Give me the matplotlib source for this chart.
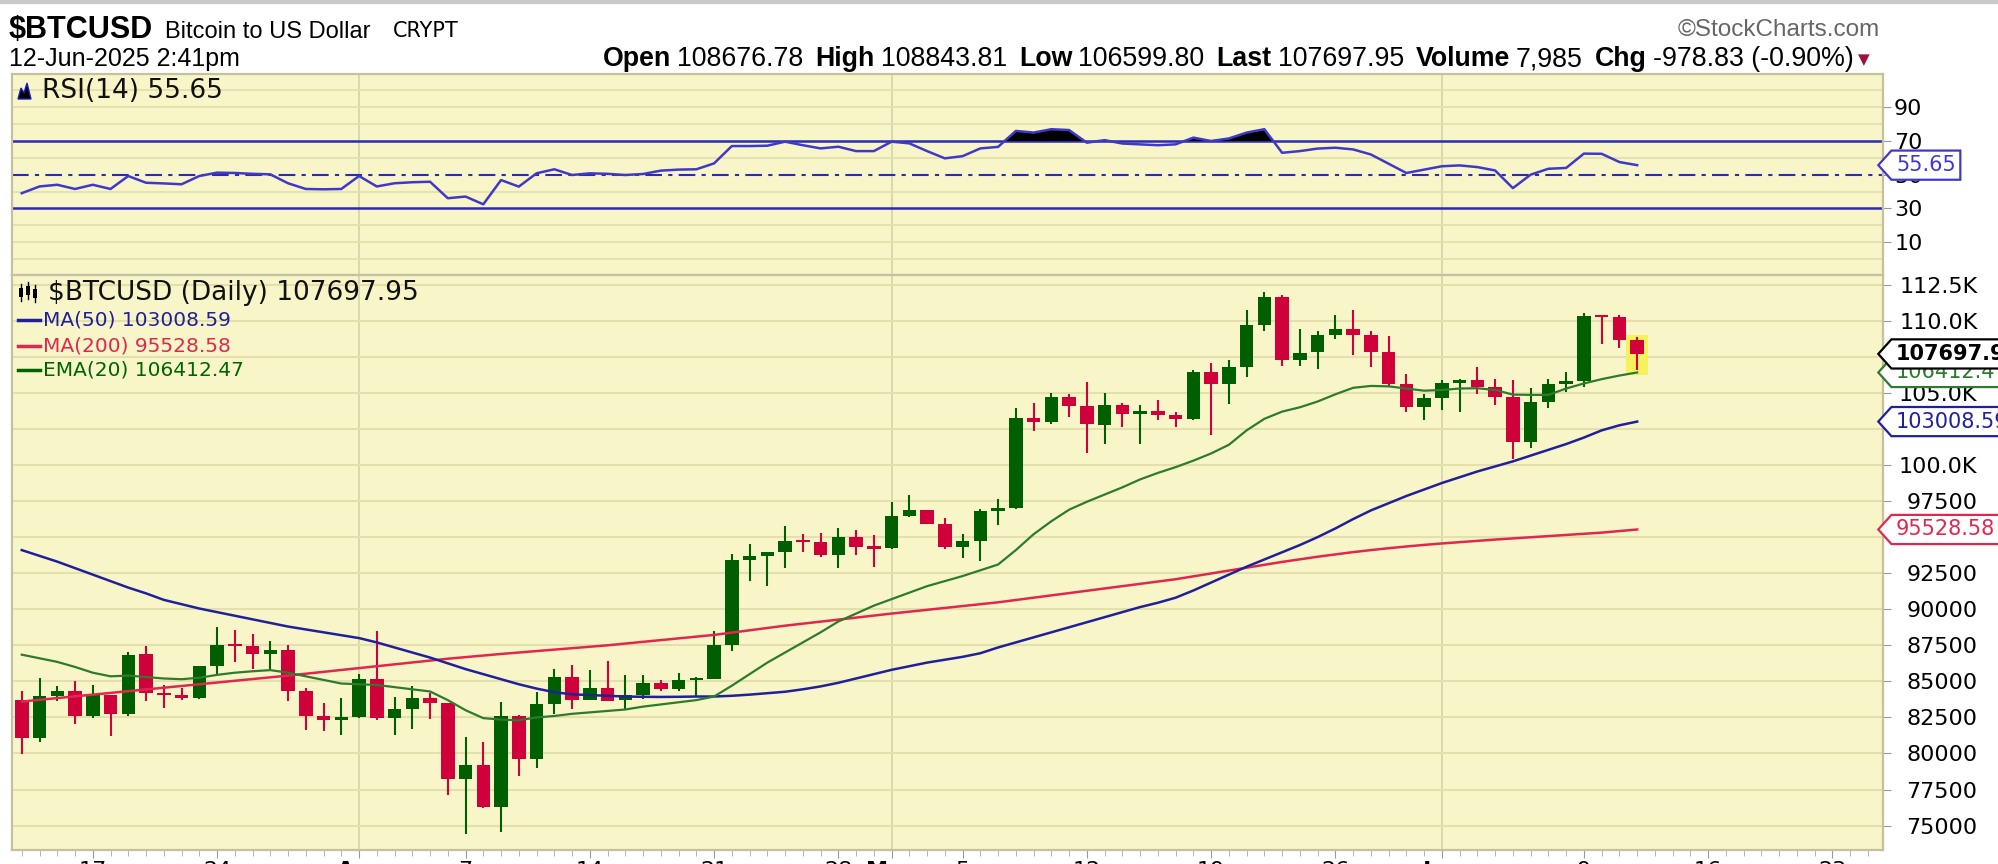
import numpy as np
import pandas as pd
import matplotlib
matplotlib.use("Agg")
import matplotlib.pyplot as plt
from matplotlib.patches import Rectangle, Polygon
from matplotlib.lines import Line2D
from matplotlib.path import Path

W, H = 1998, 864
BG = "#f8f6c8"
GRID = "#e3e0ae"
MONTH_GRID = "#d3d8ac"
UP = "#005f00"
DOWN = "#d0003a"
MA50_COLOR = "#20209a"
MA200_COLOR = "#e0284f"
EMA20_COLOR = "#2e7a2e"
RSI_COLOR = "#4038c8"
RSI_LEVEL = "#2a2ab4"

DATES = pd.date_range("2025-03-13", "2025-06-12", freq="D")

OPEN = [83724, 81067, 83968, 84333, 82577, 84075, 82718, 86873, 84164, 84046, 83831, 86070, 87512, 87461, 86896, 87185, 84352, 82597, 82337,
        82551, 85180, 82487, 83100, 83844, 83505, 78221, 79218, 76274, 82566, 79625, 83405, 85280, 83694, 84540, 83674, 84031, 84901, 84450, 85066,
        85172, 87521, 93427, 93692, 93955, 94714, 94661, 93755, 94982, 94286,
        94212, 96494, 96904, 95877, 94319, 94749, 96804, 97034, 103239, 102973, 104701, 104106, 102791, 104168, 103539, 103735, 103489, 103186,
        106430, 105605, 106791, 109674, 111679, 107278, 107803, 109023, 109441, 108992, 107802, 105646, 103994,
        104637, 105652, 105884, 105434, 104747, 101574, 104391, 105617, 105793, 110295, 110262, 108676.78]
HIGH = [84301, 85263, 84673, 85051, 84726, 84075, 87021, 87443, 84782, 84513, 86094, 88758, 88543, 88292, 87786, 87515, 84567, 83505, 83871,
        85487, 88501, 83909, 84696, 84207, 83505, 81120, 80823, 83541, 82692, 84248, 85856, 86106, 85786, 86430, 85429, 85449, 85095, 85597, 85306,
        88460, 93817, 94535, 93898, 95758, 95228, 95319, 95598, 95485, 95152,
        97437, 97896, 96904, 96318, 95193, 96920, 97625, 103971, 104305, 104984, 104937, 105747, 104977, 104303, 104153, 104533, 103707, 106597,
        107068, 107300, 110724, 111970, 111810, 109454, 109313, 110376, 110718, 109298, 108910, 106308, 104927,
        105888, 105933, 106813, 105973, 105909, 105316, 105973, 106462, 110561, 110400, 110393, 108843.81]
LOW = [79931, 80797, 83639, 82018, 82492, 81179, 82569, 83647, 83172, 83675, 83794, 85541, 86346, 85862, 85837, 83645, 81634, 81573, 81293,
       82433, 82320, 81282, 81671, 82378, 77153, 74436, 76198, 74589, 78456, 78971, 82770, 83082, 83690, 83606, 83101, 83750, 84299, 84353, 83976,
       85144, 87084, 91963, 91592, 92870, 93947, 93637, 92860, 93742, 92910,
       94153, 96377, 95886, 94173, 93566, 93377, 95829, 96951, 102346, 102834, 103346, 100815, 101429, 102639, 101440, 103137, 102640, 103142,
       102112, 104200, 106127, 109285, 106843, 106895, 106683, 108735, 107592, 106813, 105374, 103685, 103100,
       103826, 103703, 104917, 104183, 100438, 101191, 103957, 105081, 105400, 108360, 108082, 106599.80]
CLOSE = [81066, 83969, 84343, 82580, 84076, 82718, 86854, 84168, 84044, 83832, 86054, 87498, 87471, 86900, 87177, 84353, 82597, 82334, 82549,
         85169, 82485, 83102, 83843, 83504, 78214, 79235, 76271, 82573, 79626, 83404, 85288, 83740, 84542, 83668, 84033, 84895, 84450, 85063, 85174,
         87519, 93442, 93691, 93943, 94721, 94646, 93754, 94978, 94284, 94207,
         96492, 96910, 95891, 94315, 94748, 96802, 97033, 103242, 102970, 104697, 104106, 102812, 104169, 103539, 103744, 103489, 103191, 106446,
         105606, 106791, 109678, 111673, 107287, 107791, 109035, 109440, 108994, 107802, 105641, 103998, 104638,
         105653, 105881, 105433, 104731, 101575, 104390, 105616, 105794, 110295, 110258, 108686, 107697.95]

MA50 = [94100, 93700, 93300, 92850, 92400, 91950, 91500, 91100, 90650, 90350,
        90050, 89800, 89550, 89300, 89050, 88800, 88600, 88400, 88200, 88000,
        87700, 87350, 87000, 86650, 86250, 85850, 85500, 85150, 84800, 84500,
        84250, 84100, 84050, 84000, 83950, 83930, 83920, 83930, 83950, 83950,
        84000, 84080, 84180, 84280, 84450, 84650, 84900, 85200, 85500, 85800,
        86050, 86300, 86500, 86700, 86950, 87350, 87700, 88050, 88400, 88750,
        89100, 89450, 89800, 90150, 90450, 90800, 91300, 91850, 92400, 92950,
        93450, 93950, 94450, 95000, 95600, 96250, 96850, 97350, 97850, 98300,
        98750, 99150, 99550, 99900, 100250, 100650, 101050, 101450, 101900, 102400,
        102750, 103008.59]
MA200 = [83600, 83720, 83840, 83960, 84080, 84200, 84320, 84440, 84560, 84680,
         84800, 84920, 85040, 85160, 85280, 85400, 85530, 85660, 85790, 85920,
         86050, 86180, 86310, 86440, 86570, 86680, 86790, 86900, 87000, 87100,
         87200, 87300, 87400, 87500, 87620, 87740, 87860, 87980, 88100, 88220,
         88380, 88540, 88700, 88860, 89000, 89140, 89280, 89420, 89560, 89700,
         89830, 89960, 90090, 90220, 90350, 90480, 90640, 90800, 90960, 91120,
         91280, 91440, 91600, 91760, 91920, 92080, 92280, 92480, 92680, 92880,
         93080, 93280, 93460, 93640, 93800, 93960, 94100, 94230, 94350, 94460,
         94560, 94650, 94740, 94830, 94910, 94990, 95070, 95150, 95230, 95310,
         95420, 95528.58]
EMA20 = [86850, 86600, 86350, 86000, 85600, 85350, 85400, 85300, 85200, 85150,
         85250, 85450, 85600, 85700, 85780, 85600, 85350, 85100, 84850, 84800,
         84750, 84600, 84450, 84300, 83700, 83000, 82450, 82350, 82300, 82500,
         82600, 82750, 82850, 82950, 83050, 83250, 83400, 83550, 83700, 83950,
         84700, 85500, 86300, 87000, 87700, 88400, 89150, 89700, 90250, 90700,
         91150, 91600, 91950, 92300, 92700, 93100, 94100, 95200, 96100, 96900,
         97450, 97950, 98450, 99000, 99450, 99850, 100300, 100800, 101400, 102400,
         103200, 103700, 104000, 104400, 104900, 105350, 105480, 105450, 105300, 105150,
         105200, 105300, 105320, 105200, 104880, 104860, 104860, 105300, 105650, 105950,
         106200, 106412.47]
RSI = [39, 43, 44, 41.5, 44, 41.5, 49.2, 45.2, 44.8, 44.3,
       49.2, 51.2, 51, 50.5, 50.2, 44.9, 41.5, 41.3, 41.5, 49.2,
       43, 44.9, 45.5, 45.8, 36, 37, 32.4, 46.8, 42.9, 50.8,
       53.2, 49.8, 50.8, 50.5, 49.8, 50.4, 52.4, 53, 53.2, 56.7,
       67, 67, 67.2, 69.6, 67.5, 65.6, 66.6, 64, 64, 69.6,
       68.6, 64, 59.7, 61, 65.6, 66.5, 76, 75, 77, 76.5,
       69, 70.5, 68.5, 68, 67.5, 68, 72, 70, 71.5, 75,
       77, 63, 64, 65.5, 66, 65, 62, 56.5, 51, 53,
       55, 55.5, 54.5, 52.5, 42, 50, 53.5, 54, 62.5, 62.4,
       57.5, 55.65]

XTICK_DATES = ["2025-03-17", "2025-03-24", "2025-04-01", "2025-04-07", "2025-04-14", "2025-04-21", "2025-04-28", "2025-05-01",
               "2025-05-05", "2025-05-12", "2025-05-19", "2025-05-26", "2025-06-01", "2025-06-09", "2025-06-16", "2025-06-23"]
XTICK_LABELS = ["17", "24", "Apr", "7", "14", "21", "28", "May", "5", "12", "19", "26", "Jun", "9", "16", "23"]
MONTH_STARTS = ["2025-04-01", "2025-05-01", "2025-06-01"]
PRICE_TICKS = list(range(75000, 112501, 2500))
RSI_TICKS = [10, 30, 50, 70, 90]
RSI_GRID = [0, 10, 20, 40, 60, 80, 90, 100]


def fx(px):
    return px / W


def fy(py):
    return 1 - py / H


def day_index(d):
    return (pd.Timestamp(d) - DATES[0]).days


def tag_shape(x0, y0, width, height, mutation_size):
    pad = 0.22 * mutation_size
    x0, y0 = x0 - pad, y0 - pad
    width, height = width + 2 * pad, height + 2 * pad
    tip = height * 0.45
    verts = [(x0 - tip, y0 + height / 2), (x0, y0), (x0 + width, y0),
             (x0 + width, y0 + height), (x0, y0 + height), (x0 - tip, y0 + height / 2)]
    return Path(verts, closed=True)


def tag(ax, y, text, color, weight="normal"):
    ax.annotate(text, xy=(1, y), xycoords=("axes fraction", "data"), xytext=(13, 0),
                textcoords="offset pixels", ha="left", va="center", fontsize=15,
                fontweight=weight, color=color, annotation_clip=False, zorder=10,
                bbox=dict(boxstyle=tag_shape, fc="white", ec=color, lw=1.6))


def style_panel(ax):
    ax.set_facecolor(BG)
    for s in ax.spines.values():
        s.set_color("#c4c1a0")
        s.set_linewidth(1.6)
    for d in MONTH_STARTS:
        ax.axvline(day_index(d), color=MONTH_GRID, lw=1.3, zorder=0)
    ax.set_xlim(-0.55, 104.85)


fig = plt.figure(figsize=(W / 100, H / 100), dpi=100)
fig.patch.set_facecolor("white")

ax_rsi = fig.add_axes([fx(12), fy(275), (1883 - 12) / W, (275 - 74) / H])
ax = fig.add_axes([fx(12), fy(850), (1883 - 12) / W, (850 - 275) / H])
style_panel(ax_rsi)
style_panel(ax)

x = np.arange(len(DATES))

# RSI panel
rsi = np.array(RSI)
for g in RSI_GRID:
    ax_rsi.axhline(g, color=GRID, lw=1.3, zorder=0)
ax_rsi.axhline(70, color=RSI_LEVEL, lw=1.8, zorder=1)
ax_rsi.axhline(30, color=RSI_LEVEL, lw=1.8, zorder=1)
ax_rsi.axhline(50, color=RSI_LEVEL, lw=1.5, ls=(0, (8, 3, 2, 3)), zorder=1)
ax_rsi.fill_between(x, 70, rsi, where=rsi > 70, interpolate=True, color="black", lw=0, zorder=2)
ax_rsi.plot(x, rsi, color=RSI_COLOR, lw=1.8, zorder=3)
ax_rsi.set_ylim(-9.6, 109.8)
ax_rsi.set_xticks([])
ax_rsi.yaxis.tick_right()
ax_rsi.set_yticks(RSI_TICKS)
ax_rsi.set_yticklabels([str(t) for t in RSI_TICKS])
ax_rsi.tick_params(axis="y", length=6, color="#999999", labelsize=16, pad=2)
tag(ax_rsi, RSI[-1], "55.65", RSI_COLOR)

# price panel
for p in PRICE_TICKS:
    ax.axhline(p, color=GRID, lw=1.5, zorder=0)
ax.add_patch(Rectangle((x[-1] - 0.6, 106250), 1.2, 2760, fc="#f6f15c", ec="none", zorder=1))
for i in x:
    o, h, l, c = OPEN[i], HIGH[i], LOW[i], CLOSE[i]
    col = UP if c >= o else DOWN
    ax.vlines(i, l, h, color=col, lw=1.5, zorder=2)
    ax.add_patch(Rectangle((i - 0.38, min(o, c)), 0.76, max(abs(c - o), 150), fc=col, ec="none", zorder=2))
ax.plot(x, MA200, color=MA200_COLOR, lw=1.8, zorder=3)
ax.plot(x, MA50, color=MA50_COLOR, lw=1.8, zorder=3)
ax.plot(x, EMA20, color=EMA20_COLOR, lw=1.6, zorder=3)
ax.set_ylim(73310, 113170)

ax.yaxis.tick_right()
ax.set_yticks(PRICE_TICKS)
ax.set_yticklabels([f"{p / 1000:.1f}K" if p >= 100000 else str(p) for p in PRICE_TICKS])
ax.tick_params(axis="y", length=6, color="#999999", labelsize=16, pad=62)
for lbl in ax.get_yticklabels():
    lbl.set_horizontalalignment("right")

ax.set_xticks([day_index(d) for d in XTICK_DATES])
ax.set_xticklabels(XTICK_LABELS)
ax.set_xticks(range(0, 105), minor=True)
ax.tick_params(axis="x", which="major", length=6, color="#999999", labelsize=16, pad=2)
ax.tick_params(axis="x", which="minor", length=4, color="#aaaaaa")
for lbl in ax.get_xticklabels():
    if lbl.get_text() in ("Apr", "May", "Jun"):
        lbl.set_fontweight("bold")

tag(ax, 95528.58, "95528.58", MA200_COLOR)
tag(ax, 103008.59, "103008.59", MA50_COLOR)
tag(ax, 106412.47, "106412.47", EMA20_COLOR)
tag(ax, 107697.95, "107697.95", "black", weight="bold")

# legends inside panels
fig.add_artist(Polygon([(fx(18), fy(99)), (fx(21), fy(88)), (fx(24), fy(93)), (fx(27), fy(83)), (fx(31), fy(99))],
                       closed=True, transform=fig.transFigure, fc="black", ec="#2020c0", lw=1))
fig.text(fx(42), fy(91), "RSI(14) 55.65", fontsize=19, va="center", color="#111111")

for cx, top, bot in [(21, 288, 297), (28, 286, 295), (35, 289, 298)]:
    fig.add_artist(Line2D([fx(cx), fx(cx)], [fy(top - 4), fy(bot + 4)], color="black", lw=1, transform=fig.transFigure))
    fig.add_artist(Rectangle((fx(cx - 2), fy(bot)), fx(4), (bot - top) / H, fc="black", ec="none", transform=fig.transFigure))
fig.text(fx(48), fy(293), "$BTCUSD (Daily) 107697.95", fontsize=19, va="center", color="#111111")
for yy, txt, col in [(320, "MA(50) 103008.59", MA50_COLOR), (346, "MA(200) 95528.58", MA200_COLOR),
                     (370, "EMA(20) 106412.47", "#006400")]:
    fig.add_artist(Line2D([fx(18), fx(40)], [fy(yy), fy(yy)], color=col, lw=2.5, transform=fig.transFigure))
    fig.text(fx(43), fy(yy), txt, fontsize=14.5, va="center", color=col)

# header
fig.add_artist(Line2D([0, 1], [fy(2), fy(2)], color="#c8c8c8", lw=3, transform=fig.transFigure))
fig.text(fx(9), fy(38), "$BTCUSD", fontsize=22, fontweight="bold", family="Liberation Sans", va="baseline")
fig.text(fx(165), fy(38), "Bitcoin to US Dollar", fontsize=17, family="Liberation Sans", va="baseline")
fig.text(fx(393), fy(37), "CRYPT", fontsize=15, va="baseline")
fig.text(fx(9), fy(66), "12-Jun-2025 2:41pm", fontsize=18, family="Liberation Sans", va="baseline")
fig.text(fx(1880), fy(36), "\u00a9StockCharts.com", fontsize=17.5, family="Liberation Sans", color="#666666",
         ha="right", va="baseline")

parts = [("Open", "bold", 6), ("108676.78", "normal", 12), ("High", "bold", 6), ("108843.81", "normal", 12),
         ("Low", "bold", 6), ("106599.80", "normal", 12), ("Last", "bold", 6), ("107697.95", "normal", 12),
         ("Volume", "bold", 6), ("7,985", "normal", 12), ("Chg", "bold", 6), ("-978.83 (-0.90%)", "normal", 4)]
renderer = fig.canvas.get_renderer()
texts = [fig.text(0, fy(66), s, fontsize=18, fontweight=w, family="Liberation Sans", va="baseline") for s, w, g in parts]
widths = [t.get_window_extent(renderer=renderer).width for t in texts]
scale = (1862 - 603 - sum(g for s, w, g in parts)) / sum(widths)
for t in texts:
    t.set_fontsize(18 * scale)
widths = [t.get_window_extent(renderer=renderer).width for t in texts]
xpos = 603
for t, wdt, (s, w, g) in zip(texts, widths, parts):
    t.set_x(fx(xpos))
    xpos += wdt + g
fig.text(fx(xpos), fy(64), "\u25bc", fontsize=11, color="#a0103c", va="baseline")

fig.savefig("out.png", dpi=100, facecolor="white")
